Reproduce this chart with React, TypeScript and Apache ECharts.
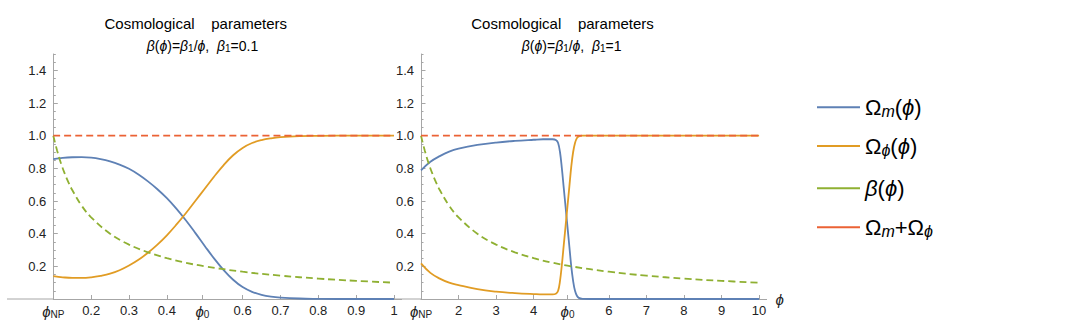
import React, { useEffect, useRef } from 'react';
import * as echarts from 'echarts';

// ---------- data ----------
const leftPhi = [0.1, 0.125, 0.15, 0.175, 0.2, 0.225, 0.25, 0.275, 0.3, 0.325, 0.35, 0.375, 0.4, 0.425, 0.45, 0.475, 0.5, 0.525, 0.55, 0.575, 0.6, 0.625, 0.65, 0.675, 0.7, 0.75, 0.8, 0.85, 0.9, 0.95, 1.0];
const leftOmegaM = [0.857, 0.864, 0.868, 0.869, 0.866, 0.857, 0.843, 0.823, 0.797, 0.762, 0.72, 0.672, 0.617, 0.553, 0.482, 0.405, 0.325, 0.247, 0.177, 0.118, 0.073, 0.044, 0.026, 0.015, 0.009, 0.003, 0.001, 0, 0, 0, 0];
const leftOmegaPhi = [0.14, 0.133, 0.129, 0.129, 0.133, 0.142, 0.155, 0.176, 0.205, 0.24, 0.283, 0.333, 0.39, 0.455, 0.525, 0.6, 0.675, 0.75, 0.82, 0.88, 0.925, 0.955, 0.973, 0.984, 0.991, 0.997, 0.999, 1, 1, 1, 1];
const leftBetaPhi = [0.1, 0.11, 0.12, 0.13, 0.14, 0.15, 0.175, 0.2, 0.25, 0.3, 0.35, 0.4, 0.45, 0.5, 0.6, 0.7, 0.8, 0.9, 1.0];
const leftBeta = [1, 0.909, 0.833, 0.769, 0.714, 0.667, 0.571, 0.5, 0.4, 0.333, 0.286, 0.25, 0.222, 0.2, 0.167, 0.143, 0.125, 0.111, 0.1];
const leftSumPhi = [0.1, 1.0];
const leftSum = [1, 1];

const rightPhi = [1, 1.25, 1.5, 1.75, 2, 2.5, 3, 3.5, 4, 4.25, 4.5, 4.6, 4.65, 4.7, 4.75, 4.8, 4.85, 4.9, 4.95, 5.0, 5.05, 5.1, 5.15, 5.2, 5.3, 5.5, 6, 7, 8, 9, 10];
const rightOmegaM = [0.787, 0.84, 0.875, 0.902, 0.92, 0.943, 0.958, 0.968, 0.975, 0.978, 0.978, 0.972, 0.955, 0.9, 0.8, 0.68, 0.56, 0.44, 0.32, 0.2, 0.11, 0.05, 0.02, 0.007, 0.001, 0, 0, 0, 0, 0, 0];
const rightOmegaPhi = [0.218, 0.16, 0.125, 0.1, 0.085, 0.06, 0.045, 0.036, 0.03, 0.028, 0.028, 0.034, 0.05, 0.11, 0.21, 0.33, 0.45, 0.57, 0.69, 0.81, 0.9, 0.955, 0.985, 0.996, 1, 1, 1, 1, 1, 1, 1];
const rightBetaPhi = [1, 1.1, 1.2, 1.3, 1.4, 1.5, 1.75, 2, 2.5, 3, 3.5, 4, 4.5, 5, 6, 7, 8, 9, 10];
const rightBeta = [1, 0.909, 0.833, 0.769, 0.714, 0.667, 0.571, 0.5, 0.4, 0.333, 0.286, 0.25, 0.222, 0.2, 0.167, 0.143, 0.125, 0.111, 0.1];
const rightSumPhi = [1, 10];
const rightSum = [1, 1];

const leftTickValues = [0.1, 0.2, 0.3, 0.4, 0.494, 0.6, 0.7, 0.8, 0.9, 1.0];
const leftTickLabels = ['ϕ_NP', '0.2', '0.3', '0.4', 'ϕ_0', '0.6', '0.7', '0.8', '0.9', '1'];
const rightTickValues = [1, 2, 3, 4, 4.9, 6, 7, 8, 9, 10];
const rightTickLabels = ['ϕ_NP', '2', '3', '4', 'ϕ_0', '6', '7', '8', '9', '10'];
const yLabelValues = [0.2, 0.4, 0.6, 0.8, 1.0, 1.2, 1.4];
const yMajorTicks = [0, 0.2, 0.4, 0.6, 0.8, 1.0, 1.2, 1.4];

const seriesNames = ['Ωm(ϕ)', 'Ωϕ(ϕ)', 'β(ϕ)', 'Ωm+Ωϕ'];
const legendRich = ['{t|Ω}{sm|m}{t|(}{i|ϕ}{t|)}', '{t|Ω}{sp|ϕ}{t|(}{i|ϕ}{t|)}', '{i|β}{t|(}{i|ϕ}{t|)}', '{t|Ω}{sm|m}{t|+Ω}{sp|ϕ}'];
const betaLabels = ['0.1', '1'];

// ---------- styling ----------
const COLORS = ['#5E81B5', '#E19C24', '#8FB032', '#EB6235'];
const FONT = '"Liberation Sans", Arial, sans-serif';
const AXIS_GRAY = '#a6a6a6';
const TEXT = '#222';

const pairs = (xs: number[], ys: number[]) => xs.map((x, i) => [x, ys[i]]);
const tickRich = (s: string) => {
  const p = s.split('_');
  return p.length > 1 ? `{i|${p[0]}}{s|${p[1]}}` : s;
};

function buildOption() {
  const grids = [
    { left: 53.3, top: 54, width: 348.3, height: 245 },
    { left: 421, top: 54, width: 345.6, height: 245 },
  ];
  const tickVals = [leftTickValues, rightTickValues];
  const tickLabs = [leftTickLabels, rightTickLabels];
  const xRanges = [
    [0.1, 1.02],
    [1, 10.2],
  ];
  const xAxes = [0, 1].map((g) => ({
    type: 'value',
    gridIndex: g,
    min: xRanges[g][0],
    max: xRanges[g][1],
    name: g === 1 ? 'ϕ' : '',
    nameLocation: 'end',
    nameGap: 9,
    nameTextStyle: { fontFamily: FONT, fontSize: 15, fontStyle: 'italic', color: TEXT },
    splitLine: { show: false },
    axisLine: { show: true, lineStyle: { color: AXIS_GRAY, width: 1 } },
    axisTick: { show: true, inside: true, length: 4, customValues: tickVals[g], lineStyle: { color: AXIS_GRAY } },
    axisLabel: {
      show: true,
      customValues: tickVals[g],
      margin: 5,
      color: TEXT,
      fontFamily: FONT,
      fontSize: 13,
      formatter: (v: number) => {
        const i = tickVals[g].findIndex((t) => Math.abs(t - v) < 1e-6);
        return i >= 0 ? tickRich(tickLabs[g][i]) : '';
      },
      rich: {
        i: { fontFamily: FONT, fontSize: 15, fontStyle: 'italic', color: TEXT },
        s: { fontFamily: FONT, fontSize: 10, color: TEXT, padding: [5, 0, 0, 0] },
      },
    },
  }));
  const yAxes: any[] = [];
  [0, 1].forEach((g) => {
    yAxes.push({
      type: 'value',
      gridIndex: g,
      min: 0,
      max: 1.5,
      interval: 0.05,
      position: 'left',
      splitLine: { show: false },
      axisLine: { show: true, lineStyle: { color: AXIS_GRAY, width: 1 } },
      axisTick: { show: true, inside: true, length: 2.5, lineStyle: { color: AXIS_GRAY } },
      axisLabel: {
        show: true,
        customValues: yLabelValues,
        margin: 7,
        color: TEXT,
        fontFamily: FONT,
        fontSize: 13,
        formatter: (v: number) => v.toFixed(1),
      },
    });
    yAxes.push({
      type: 'value',
      gridIndex: g,
      min: 0,
      max: 1.5,
      position: 'left',
      splitLine: { show: false },
      axisLine: { show: false },
      axisTick: { show: true, inside: true, length: 4.5, customValues: yMajorTicks, lineStyle: { color: AXIS_GRAY } },
      axisLabel: { show: false },
    });
  });

  const dataSets = [
    [pairs(leftPhi, leftOmegaM), pairs(leftPhi, leftOmegaPhi), pairs(leftBetaPhi, leftBeta), pairs(leftSumPhi, leftSum)],
    [pairs(rightPhi, rightOmegaM), pairs(rightPhi, rightOmegaPhi), pairs(rightBetaPhi, rightBeta), pairs(rightSumPhi, rightSum)],
  ];
  const series: any[] = [];
  [0, 1].forEach((g) => {
    dataSets[g].forEach((d, k) => {
      series.push({
        type: 'line',
        name: seriesNames[k],
        xAxisIndex: g,
        yAxisIndex: g * 2,
        data: d,
        symbol: 'none',
        showSymbol: false,
        smooth: 0.4,
        clip: true,
        z: 3 + k,
        lineStyle: { color: COLORS[k], width: 1.8, type: k >= 2 ? [7, 4] : 'solid' },
        itemStyle: { color: COLORS[k] },
      });
    });
  });

  const legendCenters = [102.3, 141, 183.3, 222.3];
  const legends = seriesNames.map((n, k) => ({
    show: true,
    data: [n],
    orient: 'vertical',
    left: 812,
    top: legendCenters[k] - 14,
    icon: 'rect',
    itemWidth: 43,
    itemHeight: 2,
    itemGap: 12,
    selectedMode: false,
    formatter: () => legendRich[k],
    textStyle: {
      fontFamily: FONT,
      fontSize: 22,
      color: '#000',
      lineHeight: 28,
      rich: {
        t: { fontFamily: FONT, fontSize: 22, color: '#000', lineHeight: 28 },
        i: { fontFamily: FONT, fontSize: 22, fontStyle: 'italic', color: '#000', lineHeight: 28 },
        sm: { fontFamily: FONT, fontSize: 16, fontStyle: 'italic', color: '#000', lineHeight: 28, padding: [9, 0, 0, 0] },
        sp: { fontFamily: FONT, fontSize: 16, fontStyle: 'italic', color: '#000', lineHeight: 28, padding: [9, 0, 0, 0] },
      },
    },
  }));

  const titleCenters = [
    [195.8, 202.5],
    [562.5, 571.7],
  ];
  const graphic: any[] = [];
  [0, 1].forEach((g) => {
    graphic.push({
      type: 'text',
      x: titleCenters[g][0],
      y: 23,
      silent: true,
      style: {
        text: 'Cosmological    parameters',
        fontFamily: FONT,
        fontSize: 15,
        fill: '#000',
        align: 'center',
        verticalAlign: 'middle',
      },
    });
    graphic.push({
      type: 'text',
      x: titleCenters[g][1],
      y: 46,
      silent: true,
      style: {
        text: `{i|β}({i|ϕ})={i|β}{s|1}/{i|ϕ},  {i|β}{s|1}=${betaLabels[g]}`,
        fontFamily: FONT,
        fontSize: 14,
        fill: '#000',
        align: 'center',
        verticalAlign: 'middle',
        rich: {
          i: { fontFamily: FONT, fontSize: 14, fontStyle: 'italic', fill: '#000' },
          s: { fontFamily: FONT, fontSize: 10, fill: '#000', padding: [5, 0, 0, 0] },
        },
      },
    });
  });
  // axis-line extensions left of the y axes (plot range padding)
  graphic.push({ type: 'line', silent: true, shape: { x1: 7, y1: 299, x2: 53.3, y2: 299 }, style: { stroke: AXIS_GRAY, lineWidth: 1 } });
  graphic.push({ type: 'line', silent: true, shape: { x1: 376, y1: 299, x2: 421, y2: 299 }, style: { stroke: AXIS_GRAY, lineWidth: 1 } });

  return {
    animation: false,
    backgroundColor: '#fff',
    grid: grids,
    xAxis: xAxes,
    yAxis: yAxes,
    legend: legends,
    series,
    graphic,
  };
}

export default function App() {
  const ref = useRef<HTMLDivElement>(null);
  useEffect(() => {
    if (!ref.current) return;
    const chart = echarts.init(ref.current, null, { renderer: 'svg' });
    chart.setOption(buildOption() as any);
    return () => chart.dispose();
  }, []);
  return <div ref={ref} style={{ position: 'absolute', left: 0, top: 0, width: 1080, height: 333 }} />;
}
